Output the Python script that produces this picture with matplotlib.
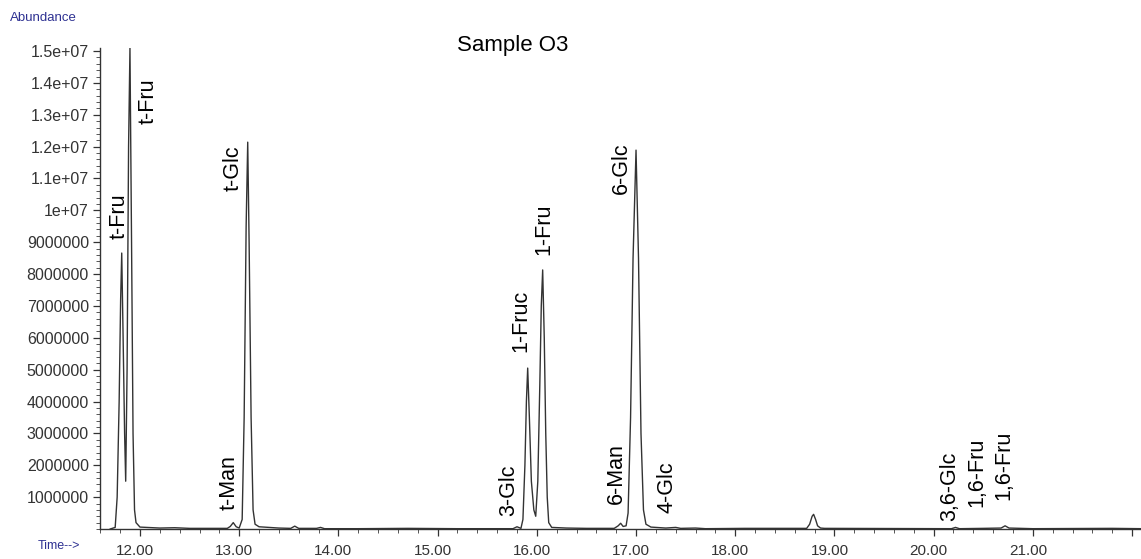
import matplotlib
matplotlib.use("Agg")
import matplotlib.pyplot as plt
import matplotlib.transforms as mtransforms
from matplotlib.ticker import FixedLocator, MultipleLocator

plt.rcParams['font.family'] = ['Liberation Sans', 'DejaVu Sans']

# Chromatogram trace (time in min, abundance in millions)
time_min = [11.70, 11.75, 11.77, 11.79, 11.805, 11.816, 11.83, 11.845, 11.856, 11.87,
            11.885, 11.899, 11.915, 11.93, 11.945, 11.96, 12.00, 12.20, 12.35, 12.50,
            12.88, 12.91, 12.94, 12.97, 13.00, 13.03, 13.05, 13.07, 13.086, 13.10,
            13.12, 13.14, 13.16, 13.20, 13.40, 13.52, 13.56, 13.60, 13.78, 13.82,
            13.86, 14.20, 14.70, 15.20, 15.76, 15.80, 15.84, 15.86, 15.88, 15.895,
            15.908, 15.925, 15.945, 15.97, 15.989, 16.01, 16.03, 16.045, 16.059, 16.075,
            16.09, 16.105, 16.12, 16.15, 16.30, 16.50, 16.78, 16.82, 16.845, 16.87,
            16.90, 16.92, 16.945, 16.97, 17.00, 17.025, 17.05, 17.075, 17.10, 17.15,
            17.30, 17.40, 17.45, 17.60, 17.70, 18.10, 18.72, 18.75, 18.775, 18.79,
            18.81, 18.83, 18.86, 18.90, 20.18, 20.22, 20.26, 20.50, 20.68, 20.72,
            20.76, 21.00, 21.80, 22.10]
abund_m = [0.00, 0.05, 1.0, 4.0, 7.2, 8.66, 6.0, 3.0, 1.5, 5.0,
           12.0, 15.09, 9.0, 3.0, 0.6, 0.2, 0.06, 0.03, 0.04, 0.02,
           0.02, 0.08, 0.20, 0.07, 0.03, 0.3, 3.5, 9.5, 12.14, 9.0,
           3.5, 0.6, 0.15, 0.07, 0.03, 0.02, 0.09, 0.02, 0.02, 0.05,
           0.01, 0.01, 0.02, 0.01, 0.01, 0.07, 0.02, 0.3, 2.0, 4.0,
           5.05, 3.5, 1.5, 0.6, 0.4, 1.5, 4.5, 7.0, 8.13, 6.0,
           3.0, 1.0, 0.2, 0.05, 0.03, 0.02, 0.02, 0.10, 0.18, 0.08,
           0.10, 0.5, 3.5, 8.5, 11.89, 8.5, 3.0, 0.6, 0.15, 0.06,
           0.03, 0.05, 0.02, 0.03, 0.01, 0.02, 0.02, 0.15, 0.40, 0.46,
           0.30, 0.10, 0.03, 0.02, 0.01, 0.05, 0.01, 0.02, 0.03, 0.10,
           0.03, 0.01, 0.02, 0.01]

# Peak labels: text, time position, abundance (millions) of text bottom
label_text = ["t-Fru", "t-Fru", "t-Man", "t-Glc", "3-Glc", "1-Fruc", "1-Fru",
              "6-Man", "6-Glc", "4-Glc", "3,6-Glc", "1,6-Fru", "1,6-Fru"]
label_time = [11.79, 12.08, 12.90, 12.94, 15.72, 15.84, 16.07,
              16.80, 16.85, 17.31, 20.16, 20.44, 20.71]
label_base = [9.1, 12.7, 0.6, 10.6, 0.4, 5.55, 8.6,
              0.8, 10.5, 0.5, 0.25, 0.7, 0.9]

ytick_vals = [1e6 * k for k in range(1, 16)]
ytick_labels = ["1000000", "2000000", "3000000", "4000000", "5000000",
                "6000000", "7000000", "8000000", "9000000", "1e+07",
                "1.1e+07", "1.2e+07", "1.3e+07", "1.4e+07", "1.5e+07"]
xtick_vals = [12, 13, 14, 15, 16, 17, 18, 19, 20, 21, 22]
xtick_labels = ["12.00", "13.00", "14.00", "15.00", "16.00", "17.00",
                "18.00", "19.00", "20.00", "21.00", ""]

fig = plt.figure(figsize=(11.41, 5.59), dpi=100)
ax = fig.add_axes([100/1141, 1 - 529/559, 1 - 100/1141, (529 - 48)/559])

ax.plot(time_min, [a * 1e6 for a in abund_m], color='#333333', lw=1.0)

for txt, t, b in zip(label_text, label_time, label_base):
    ax.text(t, b * 1e6, txt, rotation=90, ha='center', va='bottom',
            fontsize=15.5, color='black')

ax.set_xlim(11.597, 22.09)
ax.set_ylim(0, 1.5095e7)

ax.xaxis.set_major_locator(FixedLocator(xtick_vals))
ax.set_xticklabels(xtick_labels)
ax.xaxis.set_minor_locator(MultipleLocator(0.2))
ax.yaxis.set_major_locator(FixedLocator(ytick_vals))
ax.set_yticklabels(ytick_labels)
ax.yaxis.set_minor_locator(MultipleLocator(2e5))

for s in ['top', 'right']:
    ax.spines[s].set_visible(False)
for s in ['left', 'bottom']:
    ax.spines[s].set_color('#333333')
    ax.spines[s].set_linewidth(1.0)

ax.tick_params(axis='both', which='major', direction='out', length=5,
               width=0.9, color='#333333', labelcolor='#333333')
ax.tick_params(axis='y', which='major', labelsize=11.5, pad=3)
ax.tick_params(axis='x', which='major', labelsize=11, pad=6)
ax.tick_params(axis='both', which='minor', direction='out', length=3,
               width=0.7, color='#555555')

shift = mtransforms.ScaledTranslation(-5/100, 0, fig.dpi_scale_trans)
for lab in ax.get_xticklabels():
    lab.set_transform(lab.get_transform() + shift)

fig.text(513/1141, 1 - 45/559, "Sample O3", ha='center', va='center',
         fontsize=16, color='black')
fig.text(10/1141, 1 - 18/559, "Abundance", ha='left', va='center',
         fontsize=9.5, color='#2e3192')
fig.text(38/1141, 1 - 546/559, "Time-->", ha='left', va='center',
         fontsize=9, color='#2e3192')

fig.savefig("out.png", dpi=100)
